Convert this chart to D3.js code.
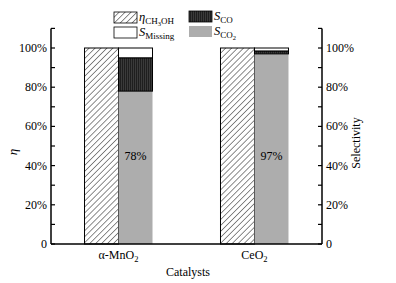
<!DOCTYPE html>
<html><head><meta charset="utf-8">
<script src="https://cdn.jsdelivr.net/npm/d3@7"></script>
<style>body{margin:0;background:#fff}svg{display:block}</style>
</head><body><div id="c"></div>
<script>
const categories = ["α-MnO2", "CeO2"];
const etaCH3OH = [100, 100];
const sCO2 = [78, 97];
const sCO = [17, 1.5];
const sMissing = [5, 1.5];
const tickValues = [0, 20, 40, 60, 80, 100];
const tickLabels = ["0", "20%", "40%", "60%", "80%", "100%"];
const minorTicks = [10, 30, 50, 70, 90, 110];
const barLabels = ["78%", "97%"];

const FONT = "'Liberation Serif', 'Times New Roman', Times, 'DejaVu Serif', serif";
const W = 396, H = 283;
const svg = d3.select("#c").append("svg").attr("width", W).attr("height", H)
  .attr("font-family", FONT).style("font-family", FONT);
const defs = svg.append("defs");
const hatch = defs.append("pattern").attr("id", "hatch").attr("patternUnits", "userSpaceOnUse")
  .attr("width", 4.2).attr("height", 4.2).attr("patternTransform", "rotate(45)");
hatch.append("rect").attr("width", 4.2).attr("height", 4.2).attr("fill", "#fff");
hatch.append("line").attr("x1", 0).attr("y1", 0).attr("x2", 0).attr("y2", 4.2).attr("stroke", "#000").attr("stroke-width", 0.9);
const vstripe = defs.append("pattern").attr("id", "vstripe").attr("patternUnits", "userSpaceOnUse")
  .attr("width", 2).attr("height", 4);
vstripe.append("rect").attr("width", 2).attr("height", 4).attr("fill", "#3a3a3a");
vstripe.append("rect").attr("width", 1).attr("height", 4).attr("fill", "#1e1e1e");

const x0 = 51, x1 = 322;
const y = d3.scaleLinear().domain([0, 110]).range([244, 28.4]);
const x = d3.scaleBand().domain(categories).range([x0, x1]).paddingInner(0.5).paddingOuter(0.2465);
const sub = d3.scaleBand().domain(["eta", "sel"]).range([0, x.bandwidth()]);

const g = svg.append("g");
categories.forEach((c, i) => {
  const bx = x(c);
  g.append("rect").attr("x", bx + sub("eta")).attr("y", y(etaCH3OH[i]))
    .attr("width", sub.bandwidth()).attr("height", y(0) - y(etaCH3OH[i]))
    .attr("fill", "url(#hatch)").attr("stroke", "#000").attr("stroke-width", 1);
  const sx = bx + sub("sel");
  const parts = [
    {v0: 0, v1: sCO2[i], fill: "#adadad", stroke: "none"},
    {v0: sCO2[i], v1: sCO2[i] + sCO[i], fill: "url(#vstripe)", stroke: "#000"},
    {v0: sCO2[i] + sCO[i], v1: sCO2[i] + sCO[i] + sMissing[i], fill: "#fff", stroke: "#000"}
  ];
  parts.forEach(p => {
    g.append("rect").attr("x", sx).attr("y", y(p.v1)).attr("width", sub.bandwidth())
      .attr("height", y(p.v0) - y(p.v1)).attr("fill", p.fill).attr("stroke", p.stroke).attr("stroke-width", 1);
  });
  g.append("text").attr("x", sx + sub.bandwidth() / 2).attr("y", y(43)).attr("text-anchor", "middle")
    .attr("font-size", 12).text(barLabels[i]);
});

const ax = svg.append("g").attr("stroke", "#000").attr("stroke-width", 1.5).attr("fill", "none");
ax.append("line").attr("x1", x0).attr("x2", x0).attr("y1", y(110)).attr("y2", y(0));
ax.append("line").attr("x1", x1).attr("x2", x1).attr("y1", y(110)).attr("y2", y(0));
ax.append("line").attr("x1", x0).attr("x2", x1).attr("y1", y(0)).attr("y2", y(0));
tickValues.concat(minorTicks).forEach(v => {
  ax.append("line").attr("x1", x0).attr("x2", x0 + 4).attr("y1", y(v)).attr("y2", y(v)).attr("stroke-width", 1.2);
  ax.append("line").attr("x1", x1 - 4).attr("x2", x1).attr("y1", y(v)).attr("y2", y(v)).attr("stroke-width", 1.2);
});
tickValues.forEach((v, i) => {
  svg.append("text").attr("x", x0 - 4).attr("y", y(v) + 4).attr("text-anchor", "end").attr("font-size", 12).text(tickLabels[i]);
  svg.append("text").attr("x", x1 + 4).attr("y", y(v) + 4).attr("text-anchor", "start").attr("font-size", 12).text(tickLabels[i]);
});

categories.forEach(c => {
  const t = svg.append("text").attr("x", x(c) + x.bandwidth() / 2).attr("y", 259).attr("text-anchor", "middle").attr("font-size", 12);
  t.append("tspan").text(c.slice(0, -1));
  t.append("tspan").attr("font-size", 8.5).attr("dy", 3).text("2");
});
svg.append("text").attr("x", 188).attr("y", 276).attr("text-anchor", "middle").attr("font-size", 12).text("Catalysts");
svg.append("text").attr("transform", "translate(17,152) rotate(-90)").attr("text-anchor", "middle")
  .attr("font-size", 13).attr("font-style", "italic").text("η");
svg.append("text").attr("transform", "translate(360,143) rotate(-90)").attr("text-anchor", "middle")
  .attr("font-size", 12).text("Selectivity");

const leg = [
  {x: 114, y: 12, fill: "url(#hatch)", main: "η", sub: "CH", sub2: "3", rest: "OH"},
  {x: 114, y: 27, fill: "#fff", main: "S", sub: "Missing"},
  {x: 189, y: 11, fill: "url(#vstripe)", main: "S", sub: "CO"},
  {x: 189, y: 26, fill: "#adadad", main: "S", sub: "CO", sub2: "2"}
];
leg.forEach(l => {
  svg.append("rect").attr("x", l.x).attr("y", l.y).attr("width", 23).attr("height", 11)
    .attr("fill", l.fill).attr("stroke", l.fill === "#adadad" ? "none" : "#000").attr("stroke-width", 0.8);
  const t = svg.append("text").attr("x", l.x + 25).attr("y", l.y + 9).attr("font-size", 12.5);
  t.append("tspan").attr("font-style", "italic").text(l.main);
  t.append("tspan").attr("font-size", 9).attr("dy", 3).text(l.sub);
  if (l.sub2) t.append("tspan").attr("font-size", 6.5).attr("dy", 2).text(l.sub2);
  if (l.rest) t.append("tspan").attr("font-size", 9).attr("dy", -2).text(l.rest);
});
</script></body></html>
